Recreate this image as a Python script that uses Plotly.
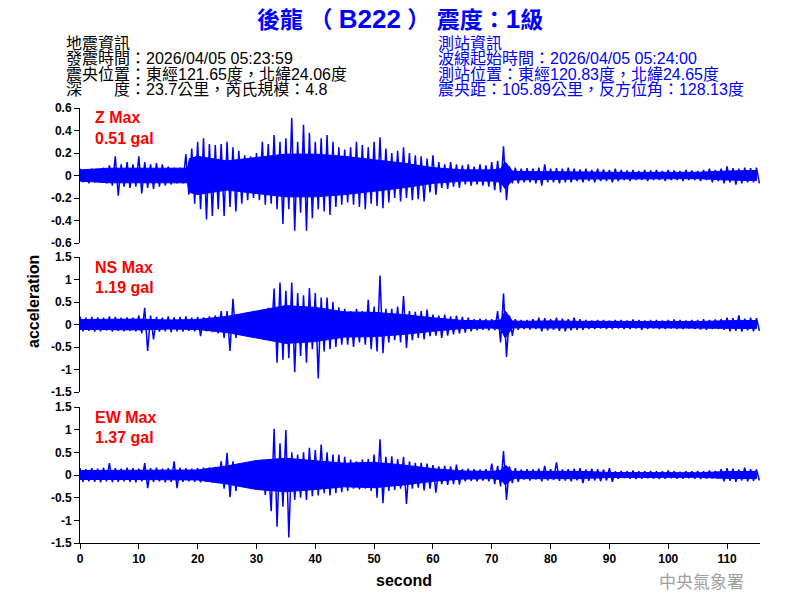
import plotly.graph_objects as go

# ---------------- data (gal) ----------------
seconds = list(range(116))

# per-second peak envelope (upper / lower)
z_hi = [0.06, 0.05, 0.06, 0.05, 0.07, 0.09, 0.17, 0.10, 0.12, 0.10,
        0.17, 0.12, 0.10, 0.11, 0.10, 0.08, 0.07, 0.07, 0.19, 0.24,
        0.30, 0.33, 0.28, 0.27, 0.28, 0.30, 0.25, 0.22, 0.18, 0.17,
        0.20, 0.30, 0.28, 0.36, 0.30, 0.33, 0.51, 0.30, 0.45, 0.38,
        0.30, 0.33, 0.36, 0.30, 0.25, 0.23, 0.25, 0.30, 0.27, 0.25,
        0.30, 0.34, 0.24, 0.20, 0.22, 0.25, 0.20, 0.18, 0.17, 0.15,
        0.18, 0.12, 0.10, 0.12, 0.10, 0.09, 0.10, 0.08, 0.10, 0.09,
        0.12, 0.13, 0.26, 0.08, 0.07, 0.06, 0.065, 0.06, 0.07, 0.10,
        0.06, 0.065, 0.06, 0.07, 0.06, 0.055, 0.06, 0.05, 0.06, 0.055,
        0.05, 0.06, 0.05, 0.045, 0.05, 0.04, 0.05, 0.045, 0.05, 0.04,
        0.05, 0.045, 0.04, 0.05, 0.045, 0.04, 0.05, 0.06, 0.05, 0.06,
        0.08, 0.065, 0.06, 0.07, 0.065, 0.07]
z_lo = [-0.06, -0.07, -0.06, -0.06, -0.07, -0.09, -0.18, -0.10, -0.11, -0.10,
        -0.16, -0.11, -0.12, -0.10, -0.09, -0.08, -0.07, -0.07, -0.17, -0.25,
        -0.30, -0.39, -0.36, -0.30, -0.36, -0.28, -0.32, -0.25, -0.22, -0.20,
        -0.22, -0.26, -0.25, -0.30, -0.43, -0.30, -0.49, -0.33, -0.49, -0.38,
        -0.30, -0.32, -0.35, -0.28, -0.26, -0.24, -0.26, -0.28, -0.30, -0.25,
        -0.27, -0.29, -0.24, -0.20, -0.23, -0.20, -0.22, -0.21, -0.23, -0.15,
        -0.17, -0.11, -0.12, -0.10, -0.11, -0.08, -0.09, -0.08, -0.09, -0.10,
        -0.13, -0.15, -0.22, -0.07, -0.07, -0.06, -0.06, -0.07, -0.09, -0.06,
        -0.06, -0.07, -0.06, -0.06, -0.05, -0.06, -0.05, -0.06, -0.05, -0.05,
        -0.06, -0.05, -0.04, -0.05, -0.04, -0.04, -0.05, -0.04, -0.04, -0.05,
        -0.04, -0.04, -0.05, -0.04, -0.04, -0.05, -0.04, -0.06, -0.05, -0.07,
        -0.06, -0.08, -0.07, -0.06, -0.06, -0.07]

ns_hi = [0.18, 0.15, 0.17, 0.16, 0.15, 0.18, 0.17, 0.15, 0.16, 0.15,
         0.20, 0.37, 0.20, 0.17, 0.15, 0.18, 0.16, 0.17, 0.18, 0.15,
         0.17, 0.16, 0.18, 0.20, 0.30, 0.30, 0.57, 0.20, 0.22, 0.20,
         0.22, 0.30, 0.37, 0.80, 0.93, 0.75, 0.93, 0.70, 0.65, 0.81,
         0.70, 0.60, 0.60, 0.50, 0.38, 0.35, 0.30, 0.35, 0.30, 0.55,
         0.40, 1.09, 0.35, 0.35, 0.40, 0.63, 0.30, 0.28, 0.30, 0.33,
         0.22, 0.20, 0.22, 0.18, 0.20, 0.17, 0.15, 0.12, 0.13, 0.12,
         0.12, 0.30, 0.69, 0.20, 0.12, 0.10, 0.10, 0.12, 0.15, 0.14,
         0.12, 0.15, 0.13, 0.12, 0.15, 0.12, 0.10, 0.09, 0.10, 0.10,
         0.09, 0.10, 0.10, 0.09, 0.11, 0.10, 0.09, 0.10, 0.10, 0.09,
         0.10, 0.11, 0.10, 0.09, 0.10, 0.10, 0.12, 0.10, 0.11, 0.12,
         0.15, 0.14, 0.20, 0.13, 0.15, 0.14]
ns_lo = [-0.15, -0.14, -0.16, -0.15, -0.13, -0.16, -0.14, -0.15, -0.14, -0.15,
         -0.20, -0.59, -0.33, -0.16, -0.15, -0.17, -0.15, -0.16, -0.14, -0.15,
         -0.26, -0.15, -0.17, -0.20, -0.30, -0.59, -0.30, -0.22, -0.25, -0.22,
         -0.25, -0.30, -0.33, -0.85, -0.78, -0.75, -1.06, -0.70, -0.85, -0.55,
         -1.20, -0.60, -0.55, -0.50, -0.45, -0.45, -0.50, -0.40, -0.45, -0.55,
         -0.60, -0.64, -0.40, -0.35, -0.40, -0.52, -0.35, -0.30, -0.33, -0.26,
         -0.25, -0.30, -0.25, -0.22, -0.20, -0.18, -0.15, -0.13, -0.12, -0.13,
         -0.13, -0.40, -0.72, -0.25, -0.12, -0.10, -0.11, -0.10, -0.15, -0.13,
         -0.12, -0.14, -0.15, -0.13, -0.12, -0.12, -0.10, -0.10, -0.09, -0.10,
         -0.10, -0.09, -0.10, -0.10, -0.09, -0.12, -0.10, -0.09, -0.10, -0.10,
         -0.09, -0.10, -0.10, -0.09, -0.10, -0.11, -0.12, -0.10, -0.10, -0.12,
         -0.15, -0.14, -0.16, -0.13, -0.15, -0.14]

ew_hi = [0.15, 0.13, 0.15, 0.14, 0.16, 0.26, 0.15, 0.14, 0.16, 0.15,
         0.14, 0.26, 0.15, 0.16, 0.14, 0.15, 0.30, 0.16, 0.15, 0.14,
         0.15, 0.16, 0.17, 0.18, 0.30, 0.49, 0.30, 0.25, 0.22, 0.25,
         0.28, 0.34, 0.30, 1.02, 0.70, 0.99, 0.50, 0.45, 0.50, 0.60,
         0.55, 0.67, 0.50, 0.45, 0.45, 0.40, 0.34, 0.30, 0.34, 0.35,
         0.45, 0.79, 0.40, 0.41, 0.35, 0.40, 0.30, 0.27, 0.27, 0.25,
         0.22, 0.19, 0.20, 0.19, 0.23, 0.13, 0.14, 0.13, 0.12, 0.13,
         0.25, 0.20, 0.53, 0.19, 0.15, 0.12, 0.13, 0.12, 0.14, 0.20,
         0.13, 0.28, 0.12, 0.13, 0.14, 0.15, 0.12, 0.14, 0.13, 0.12,
         0.15, 0.08, 0.09, 0.08, 0.10, 0.08, 0.08, 0.09, 0.08, 0.08,
         0.10, 0.08, 0.07, 0.08, 0.08, 0.09, 0.08, 0.10, 0.09, 0.13,
         0.15, 0.14, 0.12, 0.16, 0.13, 0.12]
ew_lo = [-0.15, -0.14, -0.15, -0.16, -0.14, -0.16, -0.15, -0.14, -0.15, -0.16,
         -0.14, -0.29, -0.15, -0.14, -0.16, -0.15, -0.29, -0.15, -0.14, -0.15,
         -0.16, -0.15, -0.17, -0.18, -0.30, -0.49, -0.35, -0.25, -0.22, -0.26,
         -0.30, -0.44, -0.80, -1.14, -0.70, -1.38, -0.55, -0.50, -0.55, -0.47,
         -0.45, -0.40, -0.45, -0.40, -0.38, -0.35, -0.30, -0.32, -0.30, -0.35,
         -0.50, -0.62, -0.35, -0.33, -0.30, -0.64, -0.30, -0.28, -0.34, -0.30,
         -0.39, -0.20, -0.22, -0.20, -0.21, -0.14, -0.13, -0.14, -0.12, -0.14,
         -0.20, -0.25, -0.55, -0.18, -0.15, -0.10, -0.12, -0.10, -0.14, -0.12,
         -0.11, -0.13, -0.12, -0.14, -0.12, -0.18, -0.13, -0.12, -0.14, -0.12,
         -0.15, -0.08, -0.07, -0.08, -0.09, -0.08, -0.07, -0.08, -0.09, -0.08,
         -0.07, -0.08, -0.08, -0.07, -0.08, -0.09, -0.08, -0.07, -0.08, -0.14,
         -0.13, -0.15, -0.12, -0.14, -0.13, -0.12]

# half-width of the dense (solid) core of each trace
z_core_t = [0, 5, 10, 15, 18.3, 18.6, 20, 25, 30, 35, 40, 45, 50, 55, 60, 65, 70,
            71.5, 72.3, 73.5, 75, 80, 85, 90, 95, 100, 105, 110, 115]
z_core = [0.05, 0.065, 0.065, 0.065, 0.065, 0.15, 0.17, 0.13, 0.16, 0.19, 0.19, 0.17,
          0.14, 0.11, 0.07, 0.05, 0.05, 0.06, 0.12, 0.04, 0.035, 0.035, 0.032, 0.028,
          0.028, 0.028, 0.028, 0.04, 0.045]
h_core_t = [0, 5, 10, 15, 20, 25, 30, 35, 40, 45, 50, 55, 60, 65, 70,
            71.5, 72.3, 73.5, 75, 80, 85, 90, 95, 100, 105, 110, 115]
ns_core = [0.11, 0.11, 0.12, 0.10, 0.11, 0.18, 0.30, 0.42, 0.38, 0.28, 0.27, 0.22,
           0.15, 0.09, 0.08, 0.10, 0.30, 0.08, 0.07, 0.08, 0.07, 0.065, 0.065,
           0.065, 0.065, 0.085, 0.09]
ew_core = [0.10, 0.10, 0.10, 0.10, 0.11, 0.20, 0.32, 0.37, 0.32, 0.26, 0.28, 0.22,
           0.14, 0.09, 0.08, 0.10, 0.22, 0.08, 0.08, 0.08, 0.08, 0.055, 0.05,
           0.05, 0.05, 0.075, 0.08]

z_ticks = [-0.6, -0.4, -0.2, 0, 0.2, 0.4, 0.6]
z_ticktext = ["-0.6", "-0.4", "-0.2", "0", "0.2", "0.4", "0.6"]
h_ticks = [-1.5, -1, -0.5, 0, 0.5, 1, 1.5]
h_ticktext = ["-1.5", "-1", "-0.5", "0", "0.5", "1", "1.5"]
x_ticks = [0, 10, 20, 30, 40, 50, 60, 70, 80, 90, 100, 110]

title_parts = ["後龍 （ ", "B222", " ） 震度：", "1", "級"]
quake_lines = ["地震資訊",
               "發震時間：2026/04/05 05:23:59",
               "震央位置：東經121.65度，北緯24.06度",
               "深　　度：23.7公里，芮氏規模：4.8"]
station_lines = ["測站資訊",
                 "波線起始時間：2026/04/05 05:24:00",
                 "測站位置：東經120.83度，北緯24.65度",
                 "震央距：105.89公里，反方位角：128.13度"]
max_labels = [("Z Max", "0.51 gal"), ("NS Max", "1.19 gal"), ("EW Max", "1.37 gal")]

# ---------------- layout helpers ----------------
W, H = 800, 600
L, R, T, B = 80, 760, 108, 543  # plot area in window pixels


def px(X):
    return (X - L) / (R - L)


def py(Y):
    return (B - Y) / (B - T)


FONT = "Liberation Sans, Arial, Noto Sans CJK TC, sans-serif"
CJK = "Liberation Sans, Noto Sans CJK TC, sans-serif"
BLUE = "#0000FF"


def zigzag(hi, lo):
    xs, ys = [], []
    for t, h, l in zip(seconds, hi, lo):
        xs += [t, t + 0.5]
        ys += [h, l]
    return xs, ys


fig = go.Figure()
sets = [(z_hi, z_lo, z_core_t, z_core, ""),
        (ns_hi, ns_lo, h_core_t, ns_core, "2"),
        (ew_hi, ew_lo, h_core_t, ew_core, "3")]
for hi, lo, ct, core, ax in sets:
    band_x = ct + ct[::-1]
    band_y = core + [-c for c in core[::-1]]
    fig.add_trace(go.Scatter(x=band_x, y=band_y, mode="lines", fill="toself",
                             fillcolor=BLUE, line=dict(color=BLUE, width=1),
                             xaxis="x" + ax, yaxis="y" + ax,
                             showlegend=False, hoverinfo="skip"))
    xs, ys = zigzag(hi, lo)
    fig.add_trace(go.Scatter(x=xs, y=ys, mode="lines",
                             line=dict(color=BLUE, width=1.5),
                             xaxis="x" + ax, yaxis="y" + ax,
                             showlegend=False, hoverinfo="skip"))

dom_z = [py(243), 1]
dom_ns = [py(392), py(257)]
dom_ew = [0, py(407)]

yax_common = dict(showline=True, linecolor="black", linewidth=1, ticks="outside",
                  ticklen=5, tickcolor="black", showgrid=False, zeroline=False,
                  tickfont=dict(family=FONT, size=12, color="black", weight="bold"))
xr = [0, 115.6]
fig.update_layout(
    width=W, height=H,
    margin=dict(l=L, r=W - R, t=T, b=H - B, pad=0),
    paper_bgcolor="white", plot_bgcolor="white",
    xaxis=dict(range=xr, domain=[0, 1], anchor="y", visible=False),
    xaxis2=dict(range=xr, domain=[0, 1], anchor="y2", visible=False),
    xaxis3=dict(range=xr, domain=[0, 1], anchor="y3", showline=True, linecolor="black",
                ticks="outside", ticklen=5, tickcolor="black", showgrid=False, zeroline=False,
                tickvals=x_ticks, ticktext=[str(v) for v in x_ticks],
                tickfont=dict(family=FONT, size=12, color="black", weight="bold")),
    yaxis=dict(range=[-0.6, 0.6], domain=dom_z, anchor="x", tickvals=z_ticks,
               ticktext=z_ticktext, **yax_common),
    yaxis2=dict(range=[-1.5, 1.5], domain=dom_ns, anchor="x2", tickvals=h_ticks,
                ticktext=h_ticktext, **yax_common),
    yaxis3=dict(range=[-1.5, 1.5], domain=dom_ew, anchor="x3", tickvals=h_ticks,
                ticktext=h_ticktext, **yax_common),
)

big = "<span style='font-size:26px'>{}</span>"
title_html = (title_parts[0] + big.format(title_parts[1]) + title_parts[2]
              + big.format(title_parts[3]) + title_parts[4])

ann = []
ann.append(dict(text=title_html, x=px(400), y=py(19), xref="paper", yref="paper",
                xanchor="center", yanchor="middle", showarrow=False,
                font=dict(family=CJK, size=23, color=BLUE, weight="bold")))
line_y = [43, 58.5, 74.5, 90]
for txt, yy in zip(quake_lines, line_y):
    ann.append(dict(text=txt, x=px(64), y=py(yy), xref="paper", yref="paper",
                    xanchor="left", yanchor="middle", showarrow=False,
                    font=dict(family=CJK, size=16, color="black")))
for txt, yy in zip(station_lines, line_y):
    ann.append(dict(text=txt, x=px(436), y=py(yy), xref="paper", yref="paper",
                    xanchor="left", yanchor="middle", showarrow=False,
                    font=dict(family=CJK, size=16, color=BLUE)))
for (a, b), y0 in zip(max_labels, [118, 267, 417]):
    ann.append(dict(text=a, x=px(93), y=py(y0), xref="paper", yref="paper",
                    xanchor="left", yanchor="middle", showarrow=False,
                    font=dict(family=FONT, size=16, color="#FF0000", weight="bold")))
    ann.append(dict(text=b, x=px(93), y=py(y0 + 20), xref="paper", yref="paper",
                    xanchor="left", yanchor="middle", showarrow=False,
                    font=dict(family=FONT, size=16, color="#FF0000", weight="bold")))
ann.append(dict(text="acceleration", x=px(33), y=py(302), xref="paper", yref="paper",
                xanchor="center", yanchor="middle", showarrow=False, textangle=-90,
                font=dict(family=FONT, size=16, color="black", weight="bold")))
ann.append(dict(text="second", x=px(404), y=py(580), xref="paper", yref="paper",
                xanchor="center", yanchor="middle", showarrow=False,
                font=dict(family=FONT, size=16, color="black", weight="bold")))
ann.append(dict(text="中央氣象署", x=px(701), y=py(580), xref="paper", yref="paper",
                xanchor="center", yanchor="middle", showarrow=False,
                font=dict(family="Noto Sans CJK TC, sans-serif", size=17, color="#A0A0A0")))
fig.update_layout(annotations=ann)

fig.write_html("out.html", config={"displayModeBar": False},
               post_script="document.body.style.margin='0px';")
